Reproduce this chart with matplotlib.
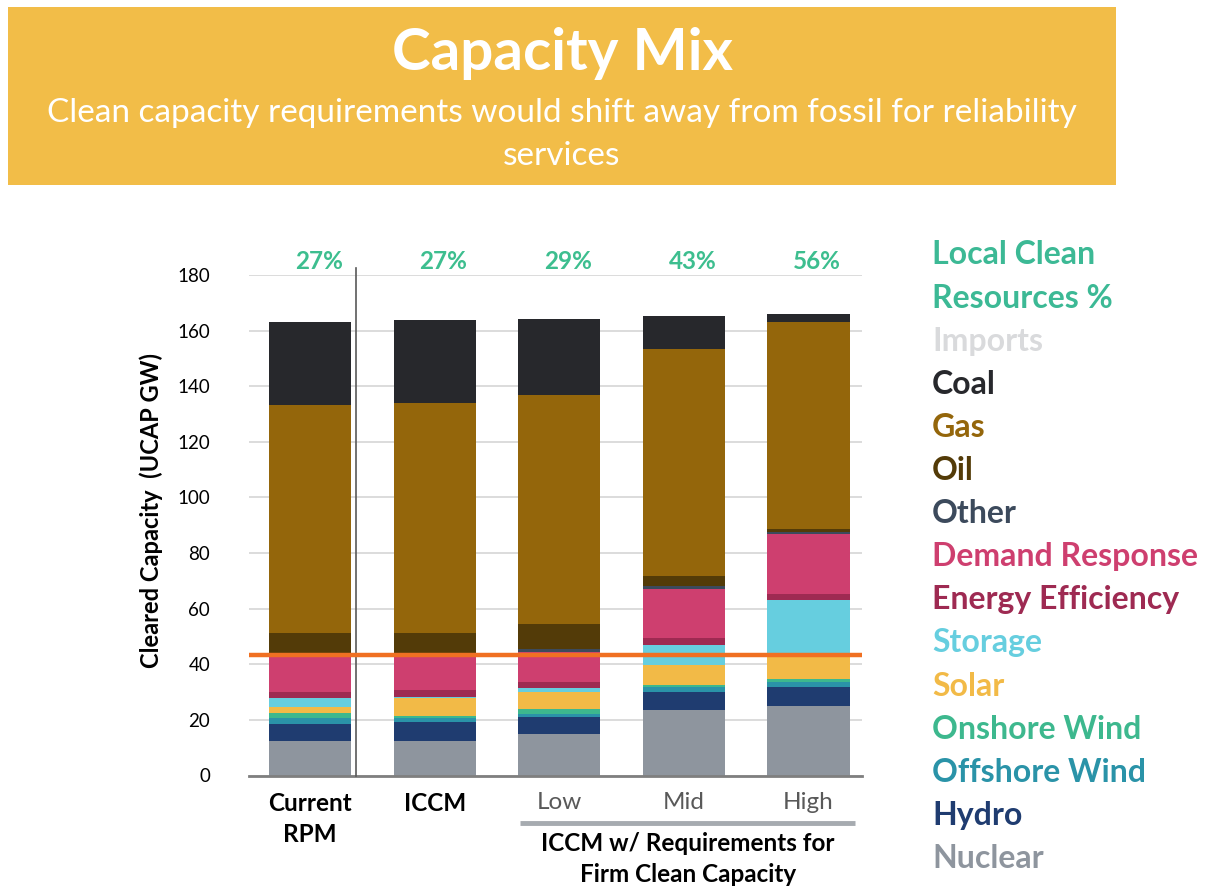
import matplotlib
matplotlib.use("Agg")
import matplotlib.pyplot as plt
from matplotlib.patches import Rectangle
import numpy as np

plt.rcParams['font.family'] = ['Lato', 'DejaVu Sans']

# ---- data (UCAP GW) ----
scenarios = ['Current\nRPM', 'ICCM', 'Low', 'Mid', 'High']
clean_pct = ['27%', '27%', '29%', '43%', '56%']

# stacked bottom -> top
nuclear  = [12.5, 12.5, 14.8, 23.4, 25.1]
hydro    = [6.1, 6.7, 6.1, 6.7, 6.8]
offshore = [1.9, 1.6, 1.2, 1.8, 1.8]
onshore  = [1.9, 0.7, 1.7, 0.6, 0.9]
solar    = [2.2, 6.3, 6.3, 7.4, 7.9]
storage  = [3.1, 0.5, 1.2, 6.9, 20.5]
eff      = [2.4, 2.4, 2.4, 2.6, 2.1]
demand   = [12.7, 12.1, 10.7, 17.8, 21.8]
other    = [0.4, 0.4, 1.2, 0.8, 0.6]
oil      = [8.0, 8.0, 9.0, 3.7, 1.2]
gas      = [82.0, 82.6, 82.1, 81.7, 74.4]
coal     = [29.9, 29.9, 27.6, 11.9, 2.9]
imports  = [0, 0, 0, 0, 0]

req_line = 43.2

series = [
    ('Nuclear', nuclear, '#8E959E'),
    ('Hydro', hydro, '#1F3C70'),
    ('Offshore Wind', offshore, '#2A93A8'),
    ('Onshore Wind', onshore, '#3DB88E'),
    ('Solar', solar, '#F2BA47'),
    ('Storage', storage, '#66CEDF'),
    ('Energy Efficiency', eff, '#9E2A52'),
    ('Demand Response', demand, '#CE3F6F'),
    ('Other', other, '#3C4A5C'),
    ('Oil', oil, '#533B08'),
    ('Gas', gas, '#94660B'),
    ('Coal', coal, '#27282C'),
    ('Imports', imports, '#D9DADC'),
]

W, H = 1221, 893
fig = plt.figure(figsize=(W / 100, H / 100), dpi=100)

# header box
fig.patches.append(Rectangle((8 / W, 1 - 185 / H), 1108 / W, 178 / H,
                             transform=fig.transFigure, facecolor='#F2BD48',
                             edgecolor='none', zorder=0))
fig.text(562 / W, 1 - 54 / H, 'Capacity Mix', color='white', fontsize=42,
         fontweight='bold', ha='center', va='center')
fig.text(562 / W, 1 - 113 / H,
         'Clean capacity requirements would shift away from fossil for reliability',
         color='white', fontsize=24, ha='center', va='center')
fig.text(562 / W, 1 - 156 / H, 'services', color='white', fontsize=24,
         ha='center', va='center')

ax = fig.add_axes([249 / W, (H - 775.5) / H, (862 - 249) / W, (775.5 - 275) / H])

x = np.arange(len(scenarios))
bottom = np.zeros(len(scenarios))
for name, vals, col in series:
    ax.bar(x, vals, 0.66, bottom=bottom, color=col, edgecolor='none', zorder=2)
    bottom += np.array(vals)

ax.set_ylim(0, 180)
ax.set_xlim(-0.49, 4.43)
ax.set_yticks(range(0, 181, 20))
ax.yaxis.grid(True, color='#D9D9D9', lw=1.3, zorder=0)
ax.set_axisbelow(True)
for s in ['top', 'right', 'left']:
    ax.spines[s].set_visible(False)
ax.spines['bottom'].set_color('#7F7F7F')
ax.spines['bottom'].set_linewidth(2)
ax.spines['bottom'].set_zorder(3)
ax.tick_params(axis='y', length=0, pad=28, labelsize=13.5)
ax.tick_params(axis='x', length=0, pad=12, labelsize=17.5)

ax.set_xticks(x)
ax.set_xticklabels(scenarios, linespacing=1.4)
for i, lab in enumerate(ax.get_xticklabels()):
    if i < 2:
        lab.set_fontweight('bold')
        lab.set_color('black')
    else:
        lab.set_color('#595959')

ax.set_ylabel('Cleared Capacity  (UCAP GW)', fontsize=17, fontweight='bold')
ax.yaxis.set_label_coords(-0.14, 0.53)

# clean share labels
for xi, p in zip(x, clean_pct):
    ax.text(xi + 0.07, 185, p, color='#3DBE8F', fontsize=17.5, fontweight='bold',
            ha='center', va='center', clip_on=False)

# separator between current and ICCM
ax.plot([0.365, 0.365], [0, 182.5], color='#595959', lw=1.2, clip_on=False, zorder=4)

# requirement line
ax.axhline(req_line, color='#F07022', lw=3.2, zorder=5)

# group bracket
ax.plot([1.683, 4.373], [-17.1, -17.1], color='#A6ABB0', lw=3.5, clip_on=False,
        solid_capstyle='butt')
ax.text(3.03, -20.3, 'ICCM w/ Requirements for\nFirm Clean Capacity',
        fontsize=17.5, fontweight='bold', ha='center', va='top', linespacing=1.45,
        clip_on=False)

# legend as coloured text
legend_items = [('Local Clean', '#3CB995'), ('Resources %', '#3CB995')] + \
    [(n, c) for n, _, c in series[::-1]]
for k, (name, col) in enumerate(legend_items):
    fig.text(932 / W, 1 - (255 + 43.1 * k) / H, name, color=col, fontsize=23,
             fontweight='bold', ha='left', va='center')

fig.savefig('out.png', dpi=100)
